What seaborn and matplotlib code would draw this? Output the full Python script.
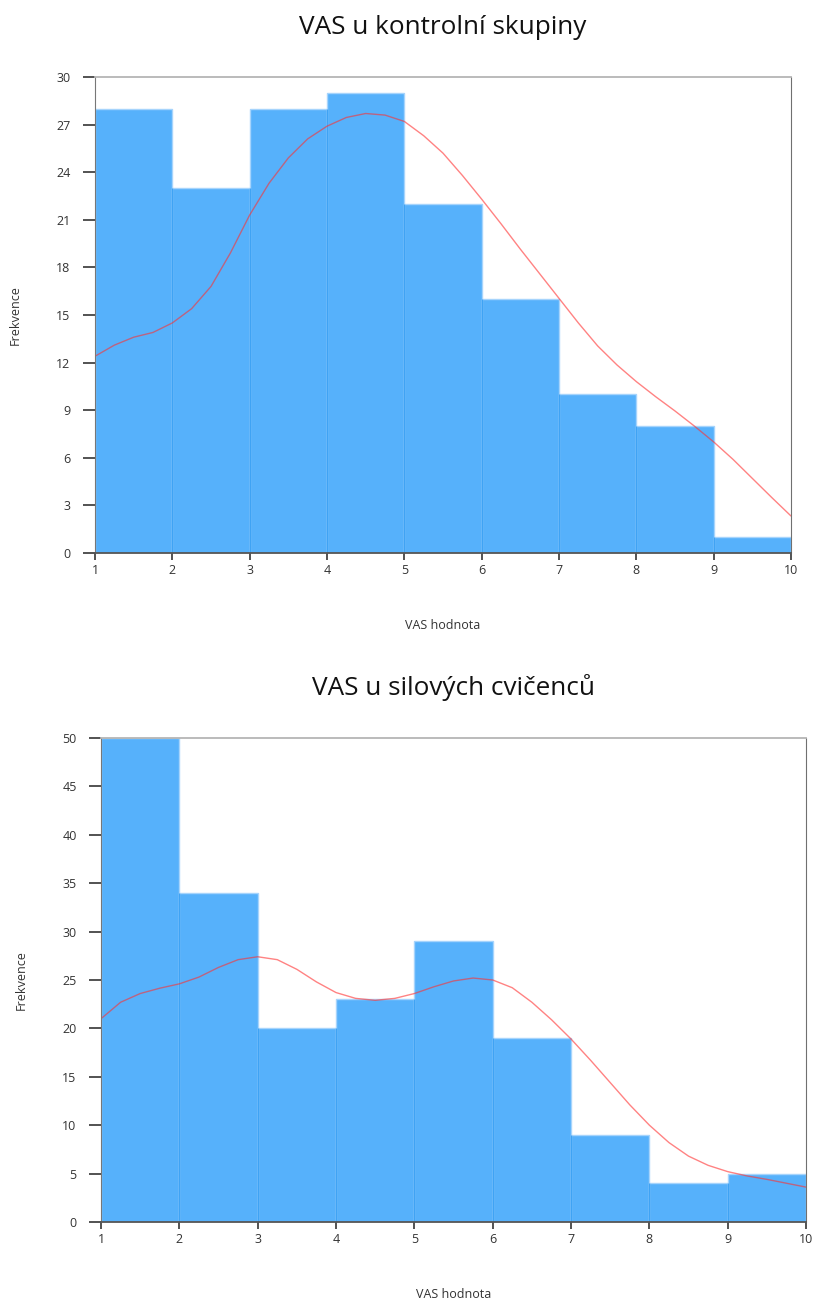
import numpy as np
import pandas as pd
import matplotlib
matplotlib.use("Agg")
import matplotlib.pyplot as plt
import seaborn as sns

# bins are [1,2), [2,3), ... [9,10]
bin_left = [1, 2, 3, 4, 5, 6, 7, 8, 9]
counts_kontrol = [28, 23, 28, 29, 22, 16, 10, 8, 1]
counts_silovi = [50, 34, 20, 23, 29, 19, 9, 4, 5]

# density curve (scaled to counts)
curve_x = [1, 1.25, 1.5, 1.75, 2, 2.25, 2.5, 2.75, 3, 3.25, 3.5, 3.75, 4, 4.25, 4.5,
           4.75, 5, 5.25, 5.5, 5.75, 6, 6.25, 6.5, 6.75, 7, 7.25, 7.5, 7.75, 8, 8.25,
           8.5, 8.75, 9, 9.25, 9.5, 9.75, 10]
curve_kontrol = [12.4, 13.1, 13.6, 13.9, 14.5, 15.4, 16.8, 18.9, 21.3, 23.3, 24.9, 26.1,
                 26.9, 27.45, 27.7, 27.6, 27.2, 26.3, 25.2, 23.8, 22.3, 20.75, 19.15, 17.6,
                 16.05, 14.5, 13.05, 11.85, 10.8, 9.85, 8.95, 8.0, 7.0, 5.9, 4.7, 3.5, 2.33]
curve_silovi = [21.0, 22.7, 23.6, 24.15, 24.6, 25.3, 26.3, 27.1, 27.4, 27.1, 26.1, 24.8,
                23.7, 23.1, 22.9, 23.1, 23.6, 24.3, 24.9, 25.2, 25.0, 24.2, 22.7, 20.9,
                18.9, 16.7, 14.4, 12.1, 10.0, 8.2, 6.8, 5.85, 5.2, 4.75, 4.4, 4.0, 3.6]

titles = ["VAS u kontrolní skupiny", "VAS u silových cvičenců"]
y_tops = [30, 50]
y_steps = [3, 5]

sns.set_style("white")
plt.rcParams["font.family"] = ["Open Sans", "DejaVu Sans"]

BAR = "#56b1fb"
EDGE_LIGHT = "#a6d4fc"
EDGE_DARK = "#3fa3f4"
TICK = "#444444"

fig = plt.figure(figsize=(8.16, 13.03), dpi=100)
ax_top = fig.add_axes([0.1164, 0.5756, 0.8530, 0.3653])
ax_bot = fig.add_axes([0.1238, 0.0622, 0.8640, 0.3714])

edges = list(range(1, 11))
for ax, counts, curve, title, ytop, ystep in zip(
        [ax_top, ax_bot], [counts_kontrol, counts_silovi],
        [curve_kontrol, curve_silovi], titles, y_tops, y_steps):
    df = pd.DataFrame({"x": [b + 0.5 for b in bin_left], "n": counts})
    sns.histplot(data=df, x="x", weights="n", bins=edges, ax=ax,
                 color=BAR, alpha=1, edgecolor=EDGE_LIGHT, linewidth=1)
    # darker dividers where neighbouring bars touch
    c = np.array(counts)
    ax.vlines(edges[1:-1], 0, np.minimum(c[:-1], c[1:]), color=EDGE_DARK, lw=1, zorder=3)
    sns.lineplot(x=curve_x, y=curve, ax=ax, color="#ff3030", alpha=0.6, lw=1, zorder=4)

    ax.set_xlim(1, 10)
    ax.set_ylim(0, ytop)
    ax.set_xticks(range(1, 11))
    ax.set_yticks(range(0, ytop + 1, ystep))
    ax.tick_params(axis="y", direction="out", length=8.6, width=1.3, color=TICK,
                   pad=9, labelsize=9, labelcolor="#333333", left=True)
    ax.tick_params(axis="x", direction="out", length=5, width=1.3, color=TICK,
                   pad=3, labelsize=9, labelcolor="#333333", bottom=True)
    ax.set_title(title, fontsize=18.8, color="#111111", pad=31)
    ax.set_xlabel("VAS hodnota", fontsize=9, color="#333333", labelpad=30)
    ax.set_ylabel("Frekvence", fontsize=9, color="#333333", labelpad=25)

    ax.spines["left"].set_color("#777777")
    ax.spines["bottom"].set_color("#555555")
    ax.spines["bottom"].set_linewidth(1.3)
    ax.spines["top"].set_color("#b5b5b5")
    ax.spines["top"].set_linewidth(1.3)
    ax.spines["right"].set_color("#707070")
    for s in ax.spines.values():
        s.set_zorder(5)

fig.savefig("out.png", dpi=100)
